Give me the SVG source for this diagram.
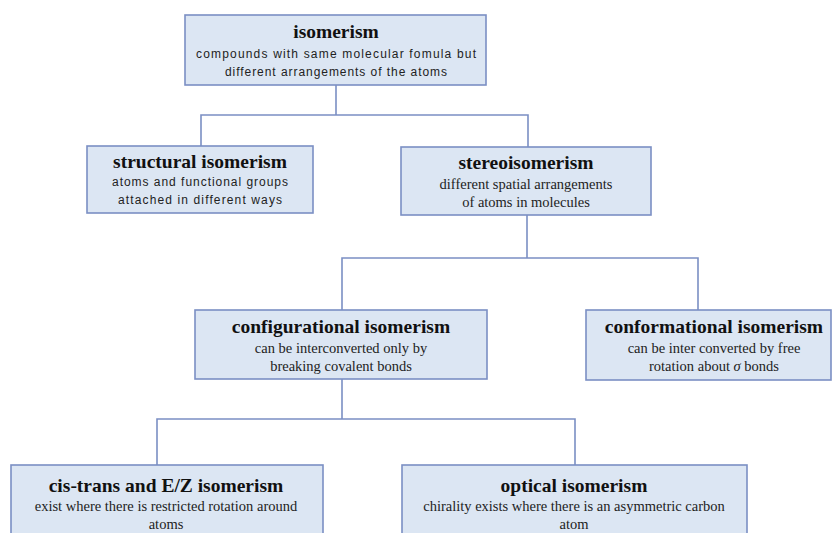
<svg xmlns="http://www.w3.org/2000/svg" width="832" height="533" viewBox="0 0 832 533">
<style>
.box{fill:#dce6f3;stroke:#7b8fc4;stroke-width:1.6}
.conn{fill:none;stroke:#7b8fc4;stroke-width:1.6}
.t{font-family:"Liberation Serif",serif;font-weight:bold;font-size:19.5px;fill:#111;text-anchor:middle}
.d{font-family:"Liberation Serif",serif;font-size:14.5px;fill:#222;text-anchor:middle}
.s{font-family:"Liberation Sans",Arial,sans-serif;font-size:12px;fill:#222;text-anchor:middle}
</style>
<rect width="832" height="533" fill="#ffffff"/>
<g id="connectors">
<path class="conn" d="M336 85V115M201 146V115H528V147"/>
<path class="conn" d="M527 215V258M342 310V258H698V310"/>
<path class="conn" d="M342 379V419M157 465V419H575V465"/>
</g>
<g id="isomerism">
<rect class="box" x="185" y="15" width="301" height="70"/>
<text class="t" x="336" y="38">isomerism</text>
<text class="s" x="336" y="58" textLength="280" lengthAdjust="spacing">compounds with same molecular fomula but</text>
<text class="s" x="336" y="76" textLength="222" lengthAdjust="spacing">different arrangements of the atoms</text>
</g>
<g id="structural">
<rect class="box" x="87" y="146" width="226" height="67"/>
<text class="t" x="200" y="168">structural isomerism</text>
<text class="s" x="200" y="186" textLength="176" lengthAdjust="spacing">atoms and functional groups</text>
<text class="s" x="200" y="204" textLength="164" lengthAdjust="spacing">attached in different ways</text>
</g>
<g id="stereo">
<rect class="box" x="401" y="147" width="250" height="68"/>
<text class="t" x="526" y="169">stereoisomerism</text>
<text class="d" x="526" y="189">different spatial arrangements</text>
<text class="d" x="526" y="207">of atoms in molecules</text>
</g>
<g id="configurational">
<rect class="box" x="195" y="310" width="292" height="69"/>
<text class="t" x="341" y="333">configurational isomerism</text>
<text class="d" x="341" y="353">can be interconverted only by</text>
<text class="d" x="341" y="371">breaking covalent bonds</text>
</g>
<g id="conformational">
<rect class="box" x="586" y="310" width="245" height="70"/>
<text class="t" x="714" y="333">conformational isomerism</text>
<text class="d" x="714" y="353">can be inter converted by free</text>
<text class="d" x="714" y="371">rotation about <tspan font-style="italic">σ</tspan> bonds</text>
</g>
<g id="cistrans">
<rect class="box" x="11" y="465" width="312" height="80"/>
<text class="t" x="166" y="492">cis-trans and E/Z isomerism</text>
<text class="d" x="166" y="511">exist where there is restricted rotation around</text>
<text class="d" x="166" y="529">atoms</text>
</g>
<g id="optical">
<rect class="box" x="402" y="465" width="345" height="80"/>
<text class="t" x="574" y="492">optical isomerism</text>
<text class="d" x="574" y="511">chirality exists where there is an asymmetric carbon</text>
<text class="d" x="574" y="529">atom</text>
</g>
</svg>
